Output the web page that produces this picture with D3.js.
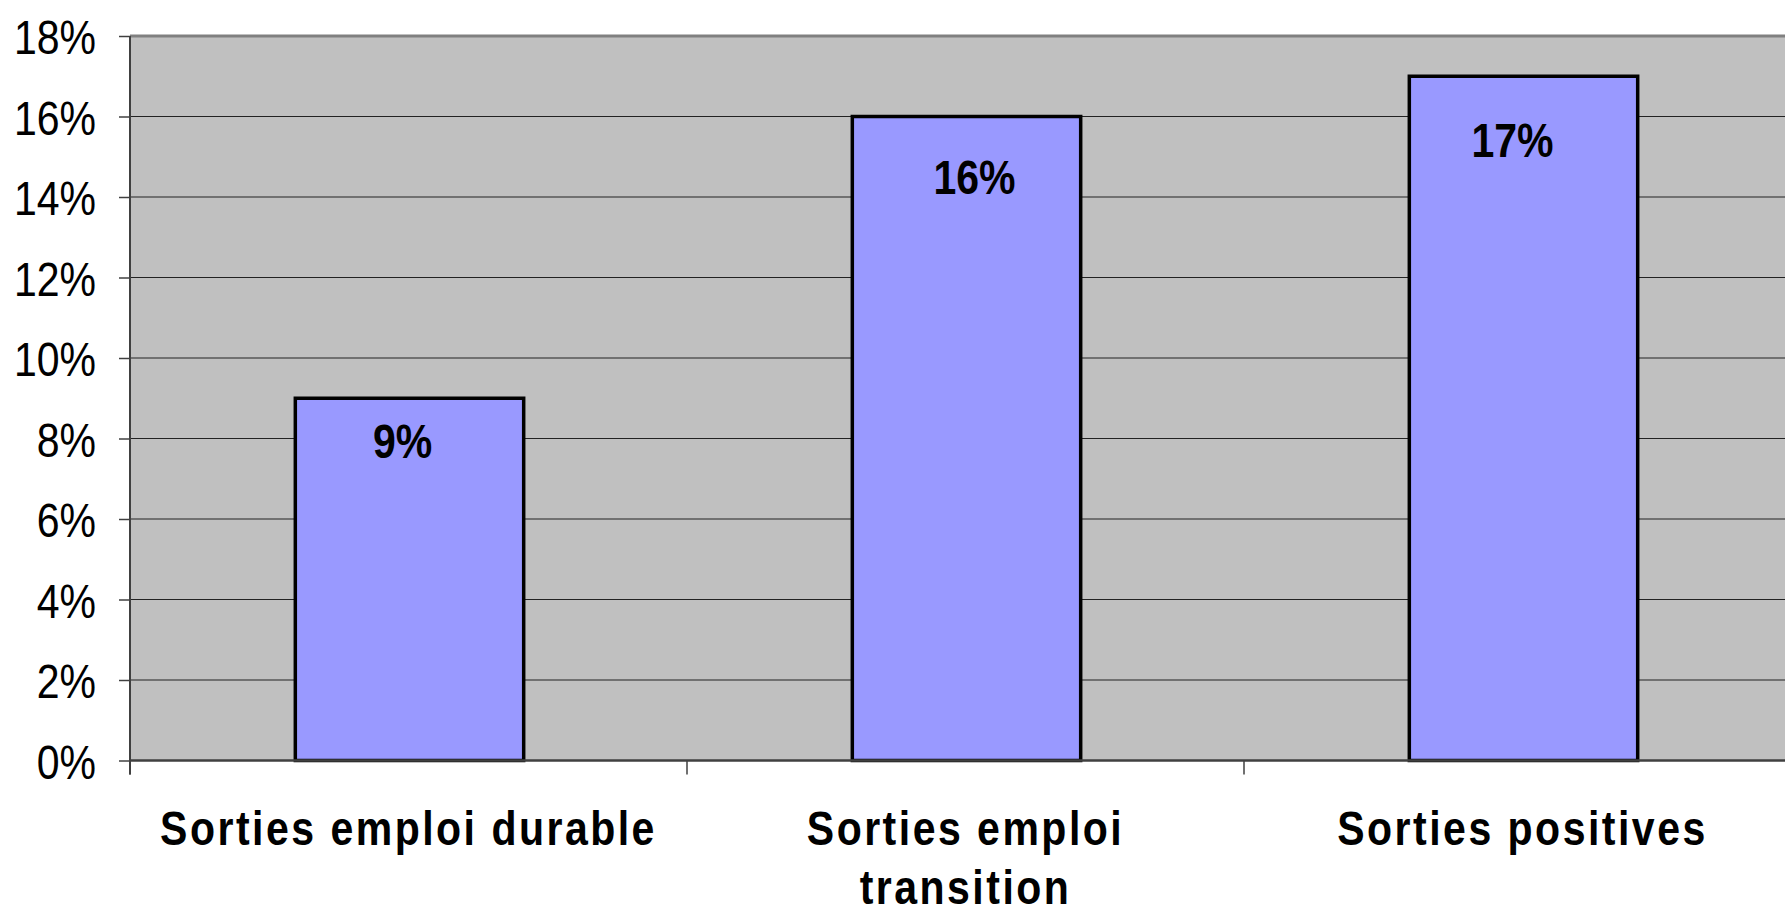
<!DOCTYPE html>
<html><head><meta charset="utf-8">
<script src="https://cdn.jsdelivr.net/npm/d3@7"></script>
<style>html,body{margin:0;padding:0;background:#fff;overflow:hidden}text{font-family:"Liberation Sans",Arial,sans-serif}</style>
</head><body><svg id="c" width="1785" height="915"></svg>
<script>
const categories = ["Sorties emploi durable", "Sorties emploi transition", "Sorties positives"];
const values = [0.09, 0.16, 0.17];
const yTicks = [0, 0.02, 0.04, 0.06, 0.08, 0.10, 0.12, 0.14, 0.16, 0.18];

(function() {
const svg = d3.select("#c");
const pLeft = 130, pRight = 1801, pTop = 36, pBottom = 760.5;
const SY = 1.19;
const labelDy = [60, 77, 81];
const labelDx = [-6, 9, -10];
const x = d3.scaleBand().domain(categories).range([pLeft, pRight]).padding(0);
const y = d3.scaleLinear().domain([0, 0.18]).range([pBottom, pTop]);
const fmt = d3.format(".0%");

svg.append("rect").attr("x", pLeft).attr("y", pTop).attr("width", pRight - pLeft).attr("height", pBottom - pTop).attr("fill", "#C0C0C0");

svg.append("g").selectAll("line").data(yTicks.filter(d => d > 0 && d < 0.18)).join("line")
  .attr("x1", pLeft).attr("x2", pRight).attr("y1", d => y(d)).attr("y2", d => y(d))
  .attr("stroke", "#222").attr("stroke-width", 1.2);
svg.append("line").attr("x1", pLeft).attr("x2", pRight).attr("y1", pTop).attr("y2", pTop).attr("stroke", "#808080").attr("stroke-width", 3);

const bw = x.bandwidth() * 0.41;
svg.append("g").selectAll("rect").data(values).join("rect")
  .attr("x", (d, i) => x(categories[i]) + x.bandwidth() / 2 - bw / 2 + 1)
  .attr("y", d => y(d)).attr("width", bw).attr("height", d => y(0) - y(d))
  .attr("fill", "#9999FF").attr("stroke", "#000").attr("stroke-width", 3.5);

svg.append("g").selectAll("text").data(values).join("text")
  .attr("transform", (d, i) => `translate(${x(categories[i]) + x.bandwidth() / 2 + labelDx[i]},${y(d) + labelDy[i]}) scale(1,${SY})`)
  .attr("text-anchor", "middle").attr("font-weight", "bold").attr("font-size", 41).attr("fill", "#000")
  .text(d => fmt(d));

const yAxis = svg.append("g").attr("transform", `translate(${pLeft},0)`)
  .call(d3.axisLeft(y).tickValues(yTicks).tickFormat(fmt).tickSize(11).tickPadding(23));
yAxis.select(".domain").attr("stroke", "#404040").attr("stroke-width", 2).attr("d", `M0,${pTop}V${pBottom + 14}`);
yAxis.selectAll(".tick line").attr("stroke", "#404040").attr("stroke-width", 1.5);
yAxis.selectAll(".tick text").attr("font-size", 41).attr("fill", "#000")
  .attr("font-family", '"Liberation Sans",Arial,sans-serif')
  .attr("dy", "0.36em").attr("transform", `scale(1,${SY})`);

svg.append("line").attr("x1", pLeft).attr("x2", pRight).attr("y1", pBottom).attr("y2", pBottom).attr("stroke", "#404040").attr("stroke-width", 2.5);
svg.append("g").selectAll("line").data(categories.map(c => x(c)).concat([pRight])).join("line")
  .attr("x1", d => d).attr("x2", d => d).attr("y1", pBottom).attr("y2", pBottom + 14)
  .attr("stroke", "#404040").attr("stroke-width", 1.5);

const lab = svg.append("g").selectAll("text").data(categories).join("text")
  .attr("transform", d => `translate(${x(d) + x.bandwidth() / 2},845) scale(1,${SY})`)
  .attr("text-anchor", "middle").attr("font-weight", "bold").attr("font-size", 41)
  .attr("letter-spacing", "2.5px").attr("fill", "#000");
lab.each(function(d) {
  const t = d3.select(this);
  const words = d.split(" ");
  let line = [], lineNo = 0;
  let ts = t.append("tspan").attr("x", 0).attr("y", 0);
  for (const w of words) {
    line.push(w);
    ts.text(line.join(" "));
    if (ts.node().getComputedTextLength() > x.bandwidth() * 0.95 && line.length > 1) {
      line.pop(); ts.text(line.join(" "));
      line = [w]; lineNo++;
      ts = t.append("tspan").attr("x", 0).attr("y", lineNo * 50).text(w);
    }
  }
});
})();
</script></body></html>
